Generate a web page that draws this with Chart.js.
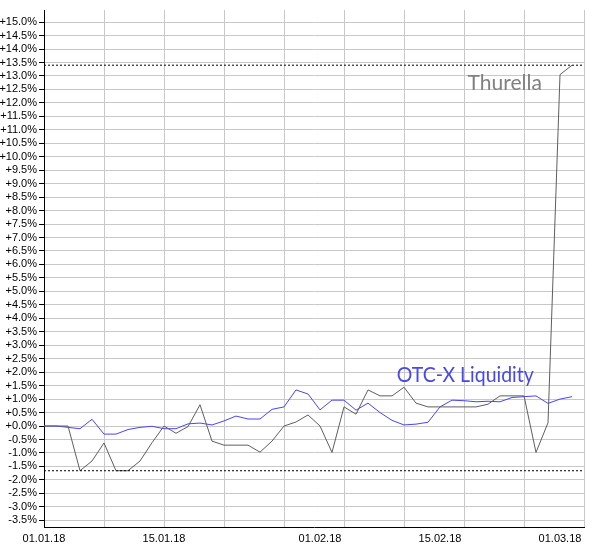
<!DOCTYPE html>
<html>
<head>
<meta charset="utf-8">
<script src="https://cdn.jsdelivr.net/npm/chart.js@4.4.1/dist/chart.umd.min.js"></script>
<style>
  html, body { margin: 0; padding: 0; background: #fff; }
  #wrap { width: 600px; height: 550px; }
</style>
</head>
<body>
<div id="wrap"><canvas id="perfChart" width="600" height="550"></canvas></div>
<script>
// trading days (weekdays only)
var dates = [
  "01.01.18", "02.01.18", "03.01.18", "04.01.18", "05.01.18",
  "08.01.18", "09.01.18", "10.01.18", "11.01.18", "12.01.18",
  "15.01.18", "16.01.18", "17.01.18", "18.01.18", "19.01.18",
  "22.01.18", "23.01.18", "24.01.18", "25.01.18", "26.01.18",
  "29.01.18", "30.01.18", "31.01.18",
  "01.02.18", "02.02.18",
  "05.02.18", "06.02.18", "07.02.18", "08.02.18", "09.02.18",
  "12.02.18", "13.02.18", "14.02.18", "15.02.18", "16.02.18",
  "19.02.18", "20.02.18", "21.02.18", "22.02.18", "23.02.18",
  "26.02.18", "27.02.18", "28.02.18",
  "01.03.18", "02.03.18", "05.03.18"
];

// performance in %
var thurella = [
  0, 0, 0, -1.66, -1.3, -0.63, -1.66, -1.66, -1.3, -0.62,
  0, -0.27, -0.02, 0.79, -0.56, -0.71, -0.71, -0.71, -0.97, -0.56,
  0.0, 0.15, 0.41, 0.0, -0.98, 0.71, 0.44, 1.34, 1.12, 1.12,
  1.44, 0.85, 0.71, 0.71, 0.71, 0.71, 0.71, 0.81, 1.12, 1.12,
  1.12, -0.98, 0.12, 13.05, 13.4
];
var otcx = [
  0, 0, -0.05, -0.1, 0.25, -0.3, -0.3, -0.13, -0.05, -0.01,
  -0.1, -0.1, 0.08, 0.11, 0.04, 0.19, 0.37, 0.26, 0.26, 0.62,
  0.71, 1.34, 1.19, 0.6, 0.96, 0.96, 0.59, 0.85, 0.5, 0.21,
  0.04, 0.07, 0.14, 0.71, 0.96, 0.94, 0.9, 0.92, 0.9, 1.06,
  1.09, 1.12, 0.84, 1.0, 1.09
];

var thurellaMax = Math.max.apply(null, thurella);
var thurellaMin = Math.min.apply(null, thurella);

// series names written into the plot (position in data units)
var seriesLabels = [
  { text: "Thurella", x: 35.3, y: 12.47, color: "#808080", maxW: 76 },
  { text: "OTC-X Liquidity", x: 29.4, y: 1.65, color: "#4848e8", maxW: 137 }
];

var labelPlugin = {
  id: 'seriesLabels',
  afterDatasetsDraw: function(chart) {
    var ctx = chart.ctx;
    var xs = chart.scales.x, ys = chart.scales.y;
    ctx.save();
    ctx.font = '21px Lato';
    ctx.textAlign = 'left';
    ctx.textBaseline = 'alphabetic';
    seriesLabels.forEach(function(l) {
      ctx.fillStyle = l.color;
      ctx.fillText(l.text, xs.getPixelForValue(l.x), ys.getPixelForValue(l.y), l.maxW);
    });
    ctx.restore();
  }
};

var perfChart = document.getElementById("perfChart").getContext('2d');
var myChart = new Chart(perfChart, {
  type: 'line',
  data: {
    labels: dates,
    datasets: [
      {
        label: "max",
        data: dates.map(function() { return thurellaMax; }),
        borderColor: '#000',
        borderWidth: 1,
        borderDash: [2, 2],
        pointRadius: 0
      },
      {
        label: "min",
        data: dates.map(function() { return thurellaMin; }),
        borderColor: '#000',
        borderWidth: 1,
        borderDash: [2, 2],
        pointRadius: 0
      },
      {
        label: "Thurella",
        data: thurella,
        borderColor: '#5e5e5e',
        borderWidth: 1,
        pointRadius: 0,
        tension: 0
      },
      {
        label: "OTC-X Liquidity",
        data: otcx,
        borderColor: '#4646ff',
        borderWidth: 1,
        pointRadius: 0,
        tension: 0
      }
    ]
  },
  options: {
    responsive: false,
    animation: false,
    layout: { padding: { top: 10, right: 16, left: 0, bottom: 0 } },
    plugins: {
      legend: { display: false },
      tooltip: { enabled: false }
    },
    scales: {
      x: {
        offset: false,
        afterFit: function(s) { s.height = 23; },
        border: { color: '#000', width: 1 },
        grid: {
          drawTicks: false,
          color: function(c) { return c.index % 5 === 0 ? '#c8c8c8' : 'rgba(0,0,0,0)'; }
        },
        ticks: {
          autoSkip: false,
          maxRotation: 0,
          padding: 5,
          color: '#000',
          font: { family: 'Liberation Sans, Arial', size: 11 },
          callback: function(v, i) {
            var d = dates[i];
            return (d.indexOf('01.') === 0 || d.indexOf('15.') === 0) ? d : '';
          }
        }
      },
      y: {
        min: -3.75,
        max: 15.45,
        afterFit: function(s) { s.width = 44; },
        border: { color: '#000', width: 1 },
        grid: { color: '#c8c8c8', tickColor: '#000', tickLength: 5 },
        ticks: {
          stepSize: 0.5,
          includeBounds: false,
          autoSkip: false,
          padding: 2,
          color: '#000',
          font: { family: 'Liberation Sans, Arial', size: 11 },
          callback: function(v) {
            var s = Math.abs(v).toFixed(1) + '%';
            return (v < -0.001 ? '-' : '+') + s;
          }
        }
      }
    }
  },
  plugins: [labelPlugin]
});
</script>
</body>
</html>
